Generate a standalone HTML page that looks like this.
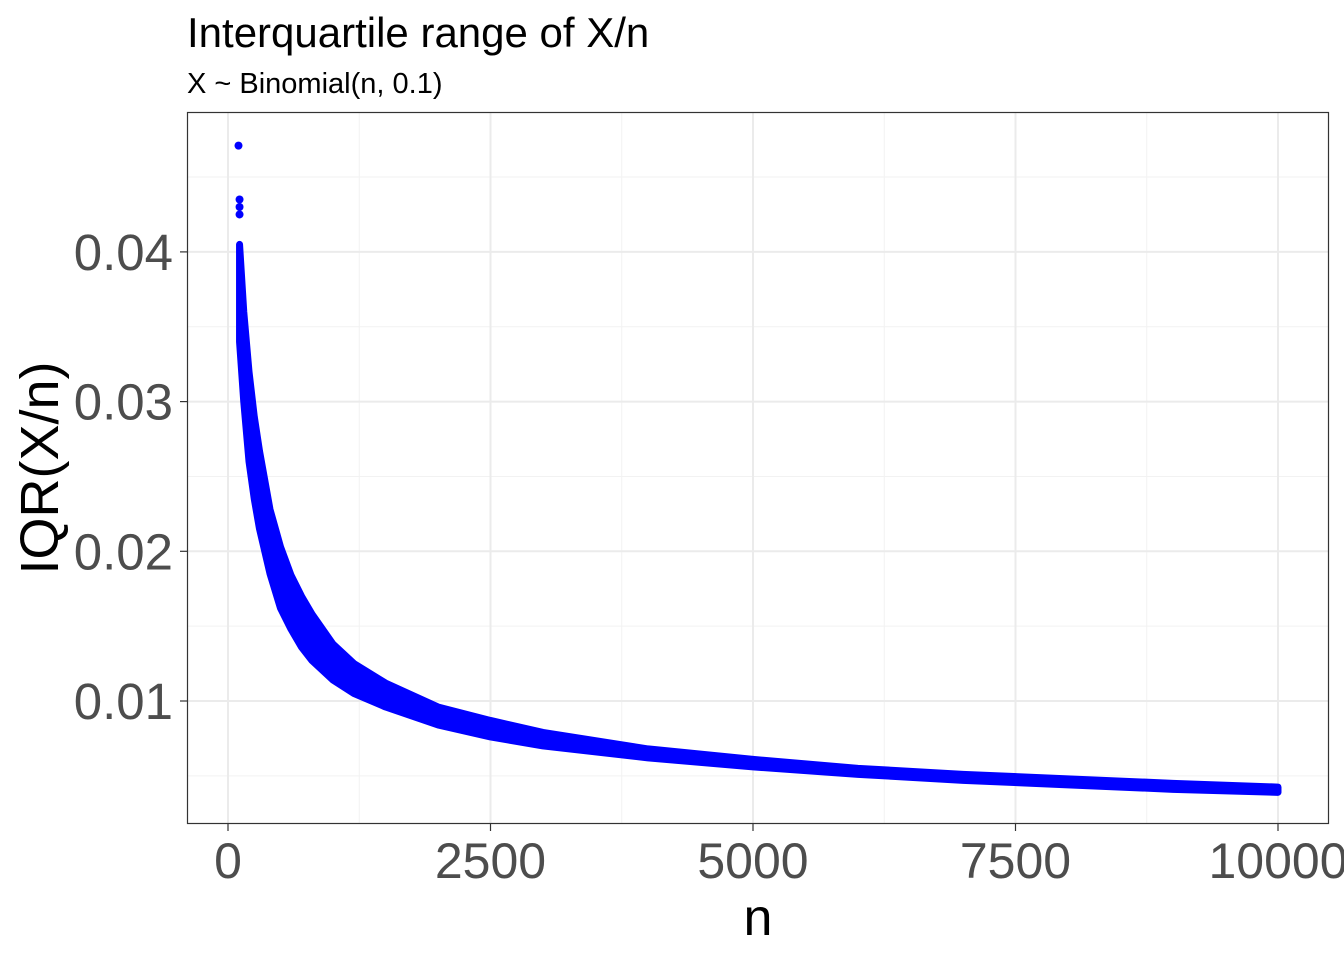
<!DOCTYPE html>
<html><head><meta charset="utf-8"><style>
body{margin:0;background:#fff;}
svg{display:block;font-family:"Liberation Sans",Arial,sans-serif;}
</style></head><body>
<svg id="chart" width="1344" height="960">
<text x="187" y="47" font-size="42" fill="#000">Interquartile range of X/n</text>
<text x="187" y="93" font-size="29" fill="#000">X ~ Binomial(n, 0.1)</text>
<rect x="187" y="112" width="1142" height="712" fill="#fff"/>
<g id="grid"></g>
<g id="marks"></g>
<rect x="187.5" y="112.5" width="1141" height="711" fill="none" stroke="#333" stroke-width="1.2"/>
<g id="axes"></g>
<text x="758" y="935" font-size="52" text-anchor="middle" fill="#000">n</text>
<text transform="translate(58,468) rotate(-90)" font-size="54" text-anchor="middle" fill="#000">IQR(X/n)</text>
</svg>
<script>
const xTicks=[0,2500,5000,7500,10000];
const xTickLabels=["0","2500","5000","7500","10000"];
const yTicks=[0.01,0.02,0.03,0.04];
const yTickLabels=["0.01","0.02","0.03","0.04"];
const bandN=[110,150,200,250,300,400,500,600,700,800,1000,1200,1500,2000,2500,3000,4000,5000,6000,7000,8000,9000,10000];
const bandUpper=[0.0405,0.036,0.032,0.029,0.0267,0.0228,0.0203,0.0184,0.0170,0.0158,0.0138,0.0125,0.0112,0.0096,0.0087,0.0079,0.0068,0.0061,0.0055,0.0051,0.0048,0.0045,0.00425];
const bandLower=[0.0340,0.030,0.026,0.0235,0.0215,0.0185,0.0162,0.0148,0.0136,0.0127,0.0114,0.0105,0.0096,0.0084,0.0076,0.0070,0.0062,0.0056,0.0051,0.0047,0.0044,0.0041,0.0039];
const dotN=[100,110,110,110];
const dotV=[0.0471,0.0435,0.0430,0.0425];
const NS="http://www.w3.org/2000/svg";
const sx=v=>228+v*(1050/10000);
const sy=v=>850.7-v*14970;
function mk(tag,attrs,parent){const e=document.createElementNS(NS,tag);for(const k in attrs)e.setAttribute(k,attrs[k]);parent.appendChild(e);return e;}
const grid=document.getElementById('grid'),marks=document.getElementById('marks'),axes=document.getElementById('axes');
for(let i=0;i<xTicks.length-1;i++){const v=(xTicks[i]+xTicks[i+1])/2;const l=mk('line',{x1:sx(v),x2:sx(v),y1:112,y2:824,stroke:'#f2f2f2','stroke-width':1},grid);

}
[0.005,0.015,0.025,0.035,0.045].forEach(v=>{const l=mk('line',{x1:187,x2:1329,y1:sy(v),y2:sy(v),stroke:'#f2f2f2','stroke-width':1},grid);

});
xTicks.forEach((v,i)=>{const l=mk('line',{x1:sx(v),x2:sx(v),y1:112,y2:824,stroke:'#ebebeb','stroke-width':2},grid);


const t=mk('line',{x1:sx(v),x2:sx(v),y1:824,y2:831,stroke:'#333','stroke-width':1.2},axes);


const tx=mk('text',{x:sx(v),y:878,'font-size':50,'text-anchor':'middle',fill:'#4d4d4d'},axes);tx.textContent=xTickLabels[i];

});
yTicks.forEach((v,i)=>{const l=mk('line',{x1:187,x2:1329,y1:sy(v),y2:sy(v),stroke:'#ebebeb','stroke-width':2},grid);


const t=mk('line',{x1:180,x2:187,y1:sy(v),y2:sy(v),stroke:'#333','stroke-width':1.2},axes);


const tx=mk('text',{x:173,y:sy(v)+18,'font-size':51,'text-anchor':'end',fill:'#4d4d4d'},axes);tx.textContent=yTickLabels[i];

});
let pts=bandN.map((n,i)=>sx(n)+','+sy(bandUpper[i]));
for(let i=bandN.length-1;i>=0;i--)pts.push(sx(bandN[i])+','+sy(bandLower[i]));
const band=mk('polygon',{points:pts.join(' '),fill:'#0000ff',stroke:'#0000ff','stroke-width':7,'stroke-linejoin':'round'},marks);


dotN.forEach((n,i)=>{const c=mk('circle',{cx:sx(n),cy:sy(dotV[i]),r:4,fill:'#0000ff'},marks);

});
</script>
</body></html>
